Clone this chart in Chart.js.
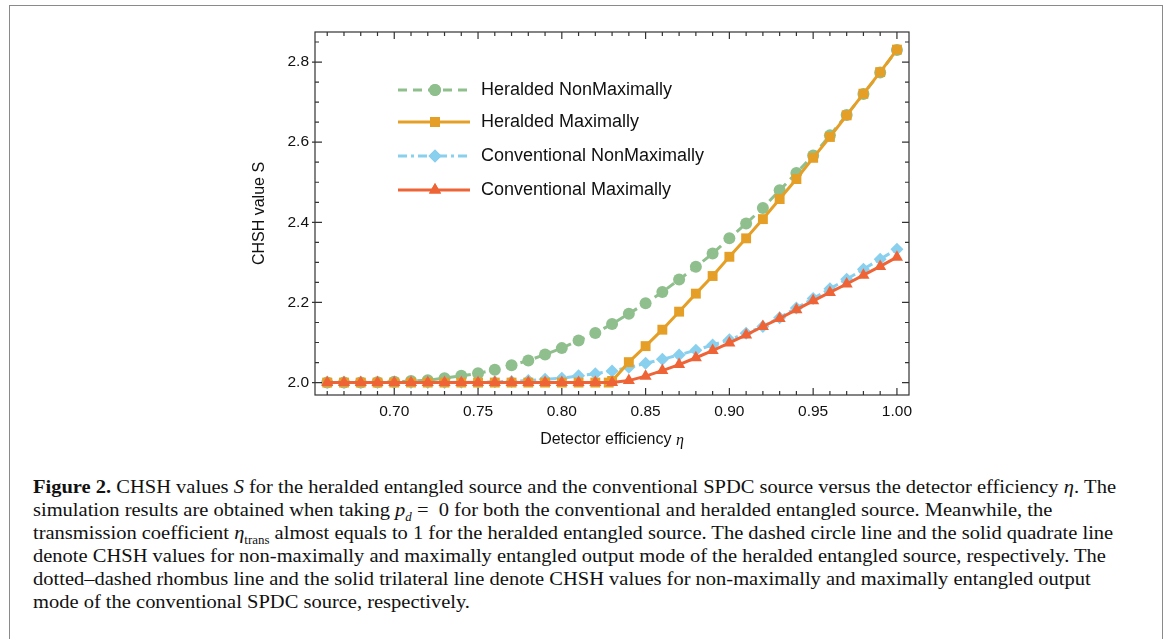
<!DOCTYPE html>
<html>
<head>
<meta charset="utf-8">
<script src="https://cdn.jsdelivr.net/npm/chart.js@4.4.1/dist/chart.umd.min.js"></script>
<style>
  body { margin: 0; background: #fff; width: 1171px; height: 639px; overflow: hidden; position: relative; }
  #frame { position: absolute; left: 9px; top: 5px; width: 1152px; height: 700px; border: 1.5px solid #8a8a8a; }
  #wrap { position: absolute; left: 200px; top: 15px; width: 730px; height: 440px; }
  #caption { position: absolute; left: 33px; top: 475px; font-family: "Liberation Serif", "DejaVu Serif", serif;
    font-size: 19px; line-height: 23px; color: #111; white-space: nowrap; transform-origin: 0 0; }
  #caption sub { font-size: 12px; line-height: 0; }
</style>
</head>
<body>
<div id="frame"></div>
<div id="wrap"><canvas id="chsh" width="730" height="440"></canvas></div>
<div id="caption">
<span id="line1"><b>Figure 2.</b> CHSH values <i>S</i> for the heralded entangled source and the conventional SPDC source versus the detector efficiency <i>η</i>. The</span><br>
simulation results are obtained when taking <i>p<sub>d</sub></i>&nbsp;=&nbsp;&nbsp;0 for both the conventional and heralded entangled source. Meanwhile, the<br>
transmission coefficient <i>η</i><sub>trans</sub> almost equals to 1 for the heralded entangled source. The dashed circle line and the solid quadrate line<br>
denote CHSH values for non-maximally and maximally entangled output mode of the heralded entangled source, respectively. The<br>
dotted–dashed rhombus line and the solid trilateral line denote CHSH values for non-maximally and maximally entangled output<br>
mode of the conventional SPDC source, respectively.
</div>
<script>
// detector efficiency
const eta = [0.66, 0.67, 0.68, 0.69, 0.70, 0.71, 0.72, 0.73, 0.74, 0.75, 0.76, 0.77,
  0.78, 0.79, 0.80, 0.81, 0.82, 0.83, 0.84, 0.85, 0.86, 0.87, 0.88, 0.89, 0.90,
  0.91, 0.92, 0.93, 0.94, 0.95, 0.96, 0.97, 0.98, 0.99, 1.00];

const heraldedNonMax = [2.000, 2.000, 2.000, 2.001, 2.002, 2.004, 2.006, 2.011, 2.017, 2.023, 2.032, 2.043,
  2.055, 2.070, 2.086, 2.105, 2.124, 2.146, 2.172, 2.198, 2.226, 2.257, 2.289, 2.322, 2.360,
  2.397, 2.436, 2.480, 2.523, 2.567, 2.617, 2.668, 2.720, 2.774, 2.830];

// heralded maximally has one extra point at the threshold
const heraldedMaxEta = [0.66, 0.67, 0.68, 0.69, 0.70, 0.71, 0.72, 0.73, 0.74, 0.75, 0.76, 0.77,
  0.78, 0.79, 0.80, 0.81, 0.82, 0.828, 0.83, 0.84, 0.85, 0.86, 0.87, 0.88, 0.89, 0.90,
  0.91, 0.92, 0.93, 0.94, 0.95, 0.96, 0.97, 0.98, 0.99, 1.00];
const heraldedMax = [2.000, 2.000, 2.000, 2.000, 2.000, 2.000, 2.000, 2.000, 2.000, 2.000, 2.000, 2.000,
  2.000, 2.000, 2.000, 2.000, 2.000, 2.000, 2.004, 2.051, 2.091, 2.132, 2.177, 2.222, 2.266, 2.314,
  2.360, 2.408, 2.458, 2.508, 2.561, 2.613, 2.667, 2.721, 2.775, 2.831];

const conventionalNonMax = [2.000, 2.000, 2.000, 2.000, 2.000, 2.000, 2.000, 2.000, 2.001, 2.001, 2.002, 2.003,
  2.005, 2.008, 2.011, 2.017, 2.022, 2.029, 2.038, 2.048, 2.058, 2.069, 2.081, 2.094, 2.107,
  2.123, 2.140, 2.162, 2.186, 2.210, 2.234, 2.258, 2.283, 2.308, 2.333];

const conventionalMax = [2.000, 2.000, 2.000, 2.000, 2.000, 2.000, 2.000, 2.000, 2.000, 2.000, 2.000, 2.000,
  2.000, 2.000, 2.000, 2.000, 2.000, 2.000, 2.005, 2.016, 2.030, 2.045, 2.062, 2.080, 2.099,
  2.119, 2.140, 2.160, 2.182, 2.204, 2.225, 2.246, 2.268, 2.290, 2.313];

const seriesNames = ['Heralded NonMaximally', 'Heralded Maximally', 'Conventional NonMaximally', 'Conventional Maximally'];

const GREEN = '#8fbf8c', ORANGE = '#e59f26', BLUE = '#89cfee', RED = '#ee6437';

function pts(xs, ys) { return xs.map((x, i) => ({ x: x, y: ys[i] })); }

const datasets = [
  { label: seriesNames[0], data: pts(eta, heraldedNonMax), borderColor: GREEN, backgroundColor: GREEN,
    borderDash: [9, 6], pointStyle: 'circle', pointRadius: 6, order: 3 },
  { label: seriesNames[1], data: pts(heraldedMaxEta, heraldedMax), borderColor: ORANGE, backgroundColor: ORANGE,
    pointStyle: 'rect', pointRadius: 7, order: 1 },
  { label: seriesNames[2], data: pts(eta, conventionalNonMax), borderColor: BLUE, backgroundColor: BLUE,
    borderDash: [9, 4, 3, 4], pointStyle: 'rectRot', pointRadius: 6.5, order: 2 },
  { label: seriesNames[3], data: pts(eta, conventionalMax), borderColor: RED, backgroundColor: RED,
    pointStyle: 'triangle', pointRadius: 7, order: 0 }
];
datasets.forEach(d => { d.borderWidth = 3; d.pointBorderWidth = 0; d.tension = 0; d.fill = false; });

const near = (v, step) => Math.abs(v / step - Math.round(v / step)) < 1e-6;

// frame, inward ticks on all sides, x title and in-plot legend
const decor = {
  id: 'decor',
  afterDraw(chart) {
    const c = chart.ctx, a = chart.chartArea;
    const xs = chart.scales.x, ys = chart.scales.y;
    c.save();
    c.strokeStyle = '#333';
    c.lineWidth = 1.2;
    c.strokeRect(a.left, a.top, a.right - a.left, a.bottom - a.top);
    c.beginPath();
    xs.ticks.forEach(t => {
      const p = xs.getPixelForValue(t.value);
      const len = near(t.value, 0.05) ? 7 : 4;
      c.moveTo(p, a.bottom); c.lineTo(p, a.bottom - len);
      c.moveTo(p, a.top); c.lineTo(p, a.top + len);
    });
    ys.ticks.forEach(t => {
      const p = ys.getPixelForValue(t.value);
      const major = near(t.value, 0.2);
      const len = major ? 7 : 4;
      c.moveTo(a.left - (major ? 3 : 0), p); c.lineTo(a.left + len, p);
      c.moveTo(a.right, p); c.lineTo(a.right - len, p);
    });
    c.stroke();

    // x axis title with italic eta
    c.fillStyle = '#111';
    c.textBaseline = 'middle';
    const t1 = 'Detector efficiency ';
    c.font = '16px "Liberation Sans", Arial, sans-serif';
    const w1 = c.measureText(t1).width;
    c.font = 'italic 16px "Liberation Serif", serif';
    const w2 = c.measureText('η').width;
    const cx = (a.left + a.right) / 2 - (w1 + w2) / 2;
    c.font = '16px "Liberation Sans", Arial, sans-serif';
    c.fillText(t1, cx, 425);
    c.font = 'italic 16px "Liberation Serif", serif';
    c.fillText('η', cx + w1, 426);

    // legend
    const rows = [75, 107, 141, 175];
    chart.data.datasets.forEach((d, i) => {
      const y = rows[i];
      c.strokeStyle = d.borderColor;
      c.lineWidth = 3;
      c.setLineDash(d.borderDash || []);
      c.beginPath(); c.moveTo(198, y); c.lineTo(270, y); c.stroke();
      c.setLineDash([]);
      c.fillStyle = d.backgroundColor;
      Chart.helpers.drawPoint(c, { pointStyle: d.pointStyle, radius: d.pointRadius, borderWidth: 0 }, 235, y);
      c.fill();
      c.fillStyle = '#111';
      c.font = '18px "Liberation Sans", Arial, sans-serif';
      c.fillText(d.label, 281, y);
    });
    c.restore();
  }
};

new Chart(document.getElementById('chsh'), {
  type: 'line',
  data: { datasets: datasets },
  options: {
    responsive: false,
    animation: false,
    layout: { padding: { top: 17, right: 21, left: 50, bottom: 0 } },
    plugins: { legend: { display: false }, tooltip: { enabled: false } },
    scales: {
      x: {
        type: 'linear', min: 0.6527, max: 1.0072,
        grid: { display: false, drawTicks: false },
        border: { display: false },
        ticks: {
          stepSize: 0.01, includeBounds: false, autoSkip: false, maxRotation: 0, padding: 7,
          color: '#111', font: { family: '"Liberation Sans", Arial, sans-serif', size: 15.5 },
          callback: v => near(v, 0.05) ? v.toFixed(2) : ''
        },
        afterFit(s) { s.height = 60; }
      },
      y: {
        min: 1.969, max: 2.875,
        grid: { display: false, drawTicks: false },
        border: { display: false },
        title: { display: true, text: 'CHSH value S', color: '#111', padding: 0,
          font: { family: '"Liberation Sans", Arial, sans-serif', size: 16, weight: 'normal' } },
        ticks: {
          stepSize: 0.05, includeBounds: false, autoSkip: false, padding: 6,
          color: '#111', font: { family: '"Liberation Sans", Arial, sans-serif', size: 15.5 },
          callback: v => near(v, 0.2) ? v.toFixed(1) : ''
        },
        afterFit(s) { s.width = 65; }
      }
    }
  },
  plugins: [decor]
});

// stretch the caption so that its first line spans the same width as in the figure
const cap = document.getElementById('caption');
const w = document.getElementById('line1').getBoundingClientRect().width;
cap.style.transform = 'scaleX(' + (1083 / w) + ')';
</script>
</body>
</html>
